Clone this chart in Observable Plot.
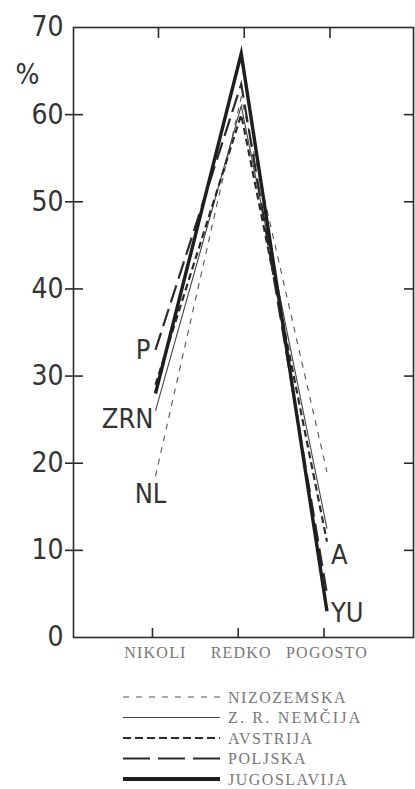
<!DOCTYPE html>
<html><head><meta charset="utf-8">
<script src="https://cdn.jsdelivr.net/npm/d3@7"></script>
<script src="https://cdn.jsdelivr.net/npm/@observablehq/plot@0.6"></script>
<style>
body{margin:0;background:#fff;}
#chart{width:415px;}
#chart svg{display:block;}
</style></head><body><div id="chart"></div><script>
// ---- data ----
const categories = ["NIKOLI", "REDKO", "POGOSTO"];
const countries = ["NIZOZEMSKA", "Z. R. NEMČIJA", "AVSTRIJA", "POLJSKA", "JUGOSLAVIJA"];
const shortLabels = ["NL", "ZRN", "A", "P", "YU"];
const labelAtCategory = ["NIKOLI", "NIKOLI", "POGOSTO", "NIKOLI", "POGOSTO"];
const nizozemska = [18.5, 62, 19];
const nemcija = [26, 61, 12.5];
const avstrija = [29, 60, 11];
const poljska = [33, 63.5, 5];
const jugoslavija = [28, 67, 3];
const yTicks = [0, 10, 20, 30, 40, 50, 60, 70];

const seriesValues = [nizozemska, nemcija, avstrija, poljska, jugoslavija];
const rows = [];
countries.forEach((c, k) => categories.forEach((cat, i) => rows.push({country: c, i, cat, v: seriesValues[k][i]})));

// ---- styles ----
const styles = {
  "NIZOZEMSKA":    {stroke: "#555", strokeWidth: 1.1, strokeDasharray: "6,6", legendDash: "6,7"},
  "Z. R. NEMČIJA": {stroke: "#444", strokeWidth: 1.1, strokeDasharray: null, legendDash: null},
  "AVSTRIJA":      {stroke: "#2a2a2a", strokeWidth: 2.2, strokeDasharray: "7,4", legendDash: "8,4"},
  "POLJSKA":       {stroke: "#2a2a2a", strokeWidth: 2.2, strokeDasharray: "18,7", legendDash: "27,8"},
  "JUGOSLAVIJA":   {stroke: "#1e1e1e", strokeWidth: 3.4, strokeDasharray: null, legendDash: null}
};
const labelOffsets = {
  "NL":  {dx: -5, dy: 18, textAnchor: "middle"},
  "ZRN": {dx: -2, dy: 8, textAnchor: "end"},
  "A":   {dx: 4, dy: 14, textAnchor: "start"},
  "P":   {dx: -5, dy: 0, textAnchor: "end"},
  "YU":  {dx: 4, dy: 2, textAnchor: "start"}
};

const W = 415, H = 670, mT = 27, mB = 33, mL = 73, mR = 2;
const iw = W - mL - mR, ih = H - mT - mB;
const numFont = "'Liberation Sans Narrow', 'DejaVu Sans Condensed', 'Roboto Condensed', sans-serif";
const serifFont = "'Liberation Serif', 'DejaVu Serif', serif";
const ink = "#2a2a2a";

const marks = [];
marks.push(Plot.frame({stroke: ink, strokeWidth: 1.6}));
marks.push(Plot.tickY(yTicks.slice(1, -1), {y: d => d, insetLeft: -8, insetRight: iw - 10, stroke: ink, strokeWidth: 1.6}));
marks.push(Plot.tickY(yTicks.slice(1, -1), {y: d => d, insetLeft: iw - 9, stroke: ink, strokeWidth: 1.6}));
marks.push(Plot.tickX(d3.range(categories.length), {x: d => d, dx: 3, insetBottom: ih - 11, stroke: ink, strokeWidth: 1.6}));
marks.push(Plot.tickX(d3.range(categories.length), {x: d => d, dx: -3, insetTop: ih - 9, stroke: ink, strokeWidth: 1.6}));
marks.push(Plot.axisY({ticks: yTicks, tickSize: 0, tickPadding: 10, fontSize: 28, fontFamily: numFont, fill: "#333", label: null}));
marks.push(Plot.axisX({ticks: d3.range(categories.length), tickFormat: i => categories[i], tickSize: 0, tickPadding: 9,
  fontSize: 16, fontFamily: serifFont, fill: "#777", label: null}));
marks.push(Plot.text(["%"], {frameAnchor: "top-left", dx: -58, dy: 37, text: d => d, fontSize: 28, fontFamily: numFont, fill: "#333"}));
countries.forEach(c => {
  const s = styles[c];
  marks.push(Plot.line(rows.filter(r => r.country === c), {x: "i", y: "v", stroke: s.stroke, strokeWidth: s.strokeWidth,
    strokeDasharray: s.strokeDasharray, strokeLinejoin: "miter", strokeMiterlimit: 20, strokeLinecap: "butt"}));
});
shortLabels.forEach((lab, k) => {
  const o = labelOffsets[lab];
  const r = rows.find(r => r.country === countries[k] && r.cat === labelAtCategory[k]);
  marks.push(Plot.text([r], {x: "i", y: "v", text: () => lab, dx: o.dx, dy: o.dy, textAnchor: o.textAnchor,
    fontSize: 27, fontFamily: numFont, fill: "#333"}));
});

const chart = Plot.plot({
  width: W, height: H, marginTop: mT, marginBottom: mB, marginLeft: mL, marginRight: mR,
  style: {background: "#fff", overflow: "visible"},
  x: {type: "linear", domain: [-0.956, 3.009], axis: null},
  y: {domain: [0, 70], axis: null},
  marks
});
d3.select(chart).selectAll("g[aria-label='x-axis tick label'] text").attr("letter-spacing", "1.2px");
document.getElementById("chart").appendChild(chart);

// ---- legend below the plot ----
const lg = d3.select("#chart").append("svg").attr("id", "legend").attr("width", W).attr("height", 789 - H);
countries.forEach((c, k) => {
  const s = styles[c];
  const y = 27 + k * 20.5;
  lg.append("line").attr("x1", 123).attr("x2", 220).attr("y1", y).attr("y2", y)
    .attr("stroke", s.stroke).attr("stroke-width", s.strokeWidth + (c === "JUGOSLAVIJA" ? 0.4 : 0))
    .attr("stroke-dasharray", s.legendDash);
  lg.append("text").attr("x", 228).attr("y", y).attr("dy", "0.36em")
    .attr("font-family", serifFont).attr("font-size", 16).attr("fill", "#777")
    .attr("letter-spacing", c === "Z. R. NEMČIJA" ? "2.2px" : "1.5px")
    .style("white-space", "pre")
    .text(c);
});
</script></body></html>
